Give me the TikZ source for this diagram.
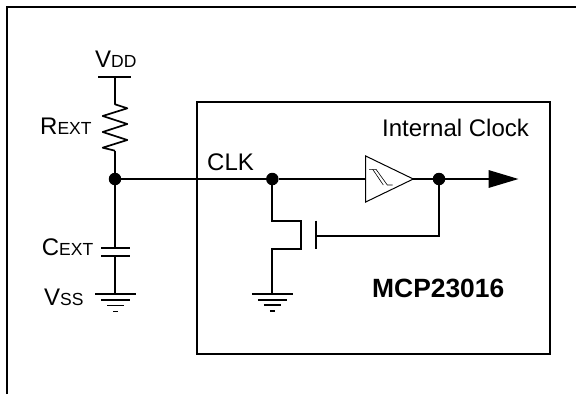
\documentclass[tikz,border=0pt]{standalone}
\usepackage{fontspec}
\setmainfont{Liberation Sans}
\usetikzlibrary{arrows.meta, positioning, calc}
\newcommand{\capsub}[2]{#1{\fontsize{17.5}{20}\selectfont #2}}
% ground symbol hanging below a named point
\newcommand{\gndsym}[1]{%
  \draw[wire] ($(#1)+(-20.5,0)$) -- ($(#1)+(20.5,0)$);
  \draw[wire] ($(#1)+(-14.5,6)$) -- ($(#1)+(14.5,6)$);
  \draw[wire] ($(#1)+(-8.5,11.5)$) -- ($(#1)+(8.5,11.5)$);
  \draw[wire] ($(#1)+(-2.5,17.5)$) -- ($(#1)+(2.5,17.5)$);
}
\begin{document}
\begin{tikzpicture}[
  x=1pt, y=-1pt,
  wire/.style={line width=1.7pt},
  frameline/.style={line width=2pt},
  dotnode/.style={circle, fill=black, minimum size=12.5pt, inner sep=0pt},
  lbl/.style={inner sep=0pt, anchor=base west, font=\fontsize{24}{28}\selectfont},
  boldlbl/.style={inner sep=0pt, anchor=base west, font=\fontsize{26.4}{30}\selectfont\bfseries},
]
  \useasboundingbox (0,0) rectangle (576,394);

  % Outer frame
  \coordinate (fbl) at (7,394);
  \coordinate (ftl) at (7,7);
  \coordinate (ftr) at (576,7);
  \draw[frameline] (fbl) -- (ftl) -- (ftr);

  % Chip box
  \node[draw, frameline, minimum width=353pt, minimum height=252pt, inner sep=0pt] (chip) at (373.3,227.8) {};
  \node[lbl] (intclk) at (382,136) {Internal Clock};
  \node[boldlbl] (chipname) at (372,297.5) {MCP23016};

  % Supply and resistor
  \node[lbl] (vdd) at (95,67.7) {\capsub{V}{DD}};
  \coordinate (vddl) at (98,76.8);
  \coordinate (vddr) at (131,76.8);
  \coordinate (vddm) at (115,76.8);
  \draw[wire] (vddl) -- (vddr);
  \node[lbl] (rext) at (40,134) {\capsub{R}{EXT}};
  \coordinate (rtop) at (115,104.3);
  \coordinate (rbot) at (115,150.7);
  \draw[wire, line join=round] (vddm) -- (rtop) -- (127.3,108.3) -- (102.7,116) -- (127.3,124)
    -- (102.7,132) -- (127.3,140) -- (102.7,147.7) -- (rbot);

  % Junctions and main line
  \node[dotnode] (jleft) at (115,179) {};
  \node[dotnode] (jclk) at (272.3,179) {};
  \node[dotnode] (jout) at (439,179) {};
  \draw[wire] (rbot) -- (jleft);
  \draw[wire] (jleft) -- (jclk);
  \node[lbl] (clk) at (207,170) {CLK};

  % Schmitt buffer
  \coordinate (bufl) at (365.7,179);
  \coordinate (bufr) at (413.3,179);
  \draw[line width=1pt, line join=miter] (365.7,156) -- (bufr) -- (365.7,202) -- cycle;
  \draw[line width=0.6pt] (369,169.3) -- (376,169.3) -- (387.3,185) -- (392.7,185);
  \draw[line width=0.6pt] (372.7,169.3) -- (383.3,185);
  \draw[wire] (jclk) -- (bufl);
  \draw[wire] (bufr) -- (jout);

  % Output arrow
  \coordinate (outend) at (518.5,179);
  \draw[wire, -{Triangle[length=30pt, width=17.5pt]}] (jout) -- (outend);

  % Transistor
  \coordinate (dtop) at (272.3,220.7);
  \coordinate (dgate) at (301.3,220.7);
  \coordinate (sgate) at (301.3,249.3);
  \coordinate (stop) at (272.3,249.3);
  \coordinate (gnd2) at (272.3,293.7);
  \draw[wire, line join=miter] (jclk) -- (dtop) -- (dgate) -- (sgate) -- (stop) -- (gnd2);
  \coordinate (gtop) at (316,220.7);
  \coordinate (gbot) at (316,249.3);
  \draw[wire] (gtop) -- (gbot);
  \coordinate (gate) at (316,235.8);
  \coordinate (gright) at (439,235.8);
  \draw[wire] (gate) -- (gright) -- (jout);

  % Capacitor
  \node[lbl] (cext) at (41.7,255) {\capsub{C}{EXT}};
  \coordinate (cup) at (115,247.7);
  \coordinate (cdn) at (115,255.7);
  \coordinate (gnd1) at (115.7,294);
  \draw[wire] (jleft) -- (cup);
  \draw[wire] (101,247.7) -- (130,247.7);
  \draw[wire] (101,255.7) -- (130,255.7);
  \draw[wire] (cdn) -- (115,294);
  \node[lbl] (vss) at (44,305) {\capsub{V}{SS}};

  % Ground symbols
  \gndsym{gnd1}
  \gndsym{gnd2}
\end{tikzpicture}
\end{document}
